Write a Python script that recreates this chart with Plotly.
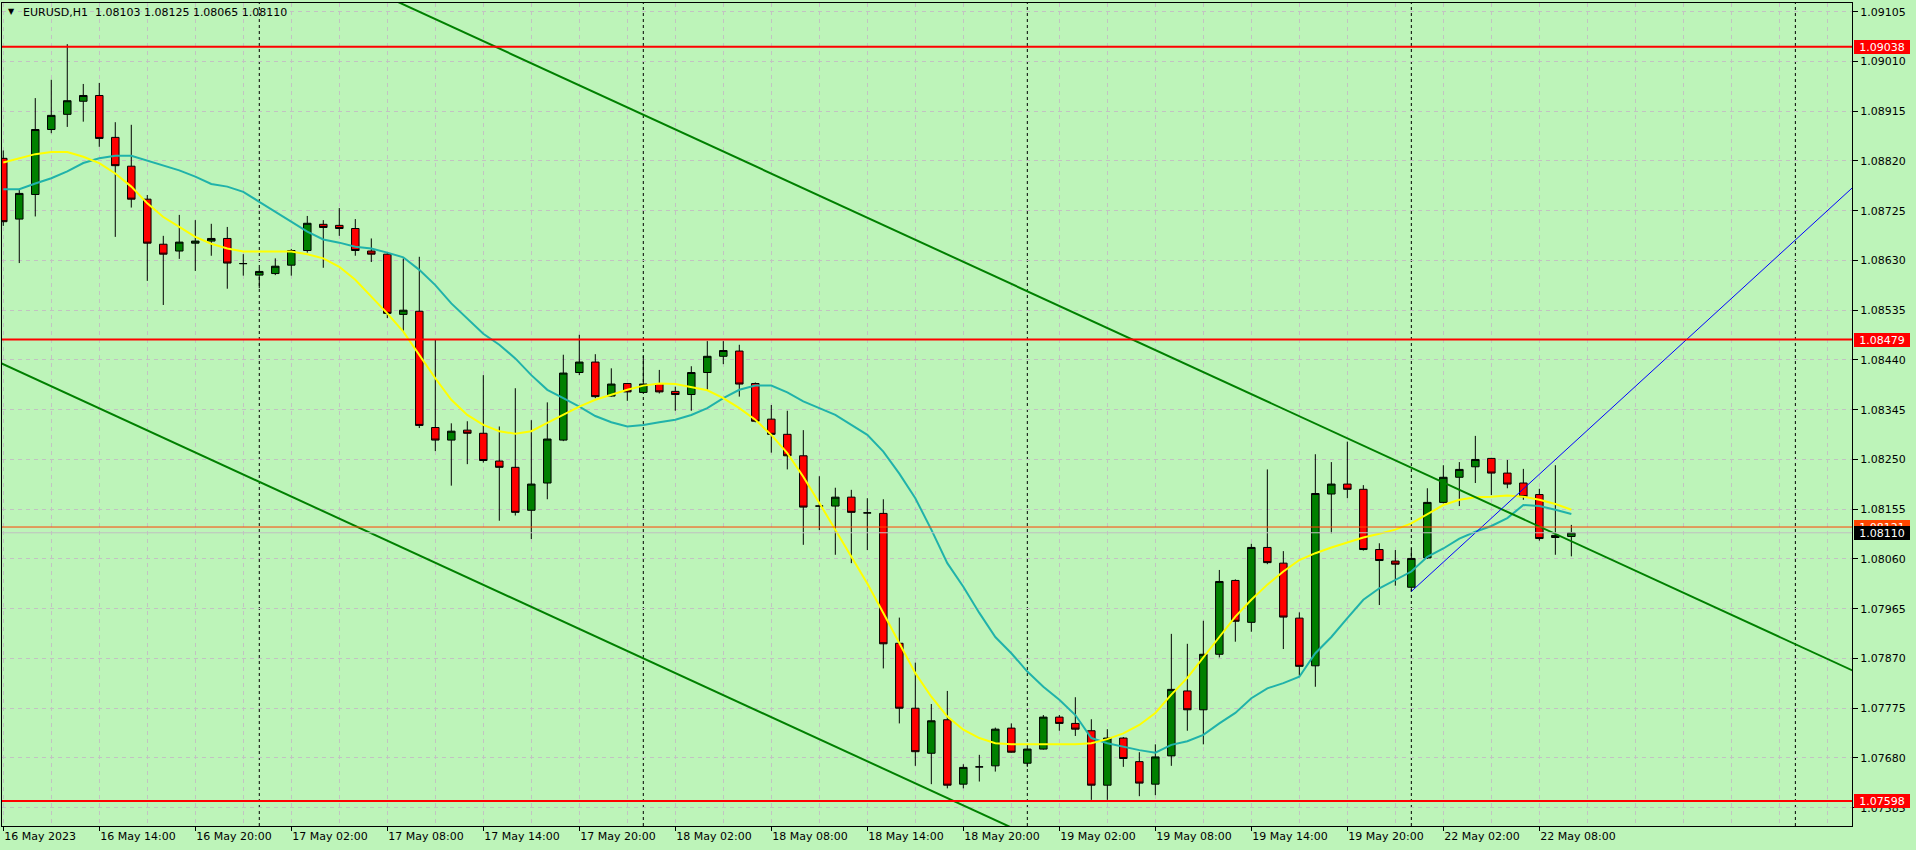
import plotly.graph_objects as go
from datetime import datetime, timedelta

FONT = "DejaVu Sans"
symbol = "EURUSD,H1"

# ---------------- data ----------------
bar_times = ([datetime(2023, 5, 16, 8) + timedelta(hours=h) for h in range(88)] +
             [datetime(2023, 5, 22, 0) + timedelta(hours=h) for h in range(11)])

opens = [1.08825, 1.08709, 1.08756, 1.08880, 1.08909, 1.08934, 1.08945, 1.08865, 1.08810, 1.08747,
         1.08661, 1.08648, 1.08663, 1.08667, 1.08672, 1.08624, 1.08602, 1.08605, 1.08621, 1.08649,
         1.08699, 1.08697, 1.08691, 1.08648, 1.08642, 1.08527, 1.08533, 1.08311, 1.08287, 1.08306,
         1.08300, 1.08247, 1.08235, 1.08153, 1.08205, 1.08287, 1.08416, 1.08436, 1.08371, 1.08395,
         1.08378, 1.08395, 1.08380, 1.08374, 1.08416, 1.08447, 1.08457, 1.08395, 1.08327, 1.08298,
         1.08257, 1.08161, 1.08161, 1.08178, 1.08148, 1.08147, 1.07899, 1.07775, 1.07689, 1.07753,
         1.07630, 1.07663, 1.07665, 1.07737, 1.07670, 1.07697, 1.07758, 1.07746, 1.07732, 1.07628,
         1.07718, 1.07673, 1.07630, 1.07684, 1.07808, 1.07772, 1.07878, 1.08019, 1.07939, 1.08082,
         1.08052, 1.07947, 1.07856, 1.08184, 1.08203, 1.08193, 1.08078, 1.08056, 1.08006, 1.08062,
         1.08168, 1.08216, 1.08236, 1.08252, 1.08224, 1.08205, 1.08183, 1.08101, 1.08103]
highs = [1.08840, 1.08765, 1.08940, 1.08975, 1.09043, 1.08967, 1.08969, 1.08894, 1.08889, 1.08755,
         1.08677, 1.08717, 1.08707, 1.08700, 1.08694, 1.08642, 1.08616, 1.08634, 1.08652, 1.08715,
         1.08707, 1.08730, 1.08709, 1.08672, 1.08646, 1.08634, 1.08637, 1.08479, 1.08319, 1.08323,
         1.08411, 1.08313, 1.08386, 1.08325, 1.08359, 1.08450, 1.08488, 1.08451, 1.08424, 1.08396,
         1.08448, 1.08421, 1.08389, 1.08428, 1.08476, 1.08476, 1.08469, 1.08397, 1.08354, 1.08343,
         1.08306, 1.08218, 1.08196, 1.08192, 1.08176, 1.08174, 1.07948, 1.07862, 1.07783, 1.07808,
         1.07668, 1.07686, 1.07738, 1.07746, 1.07699, 1.07762, 1.07762, 1.07796, 1.07754, 1.07735,
         1.07720, 1.07691, 1.07706, 1.07917, 1.07898, 1.07942, 1.08039, 1.08021, 1.08089, 1.08231,
         1.08075, 1.07958, 1.08260, 1.08245, 1.08284, 1.08201, 1.08090, 1.08077, 1.08080, 1.08195,
         1.08239, 1.08245, 1.08295, 1.08253, 1.08249, 1.08232, 1.08194, 1.08239, 1.08125]
lows = [1.08696, 1.08625, 1.08714, 1.08873, 1.08885, 1.08895, 1.08847, 1.08675, 1.08731, 1.08591,
        1.08545, 1.08633, 1.08610, 1.08639, 1.08576, 1.08601, 1.08577, 1.08602, 1.08601, 1.08645,
        1.08616, 1.08677, 1.08639, 1.08627, 1.08520, 1.08494, 1.08310, 1.08266, 1.08200, 1.08241,
        1.08244, 1.08133, 1.08143, 1.08098, 1.08174, 1.08285, 1.08411, 1.08367, 1.08370, 1.08362,
        1.08377, 1.08376, 1.08343, 1.08343, 1.08383, 1.08432, 1.08370, 1.08321, 1.08263, 1.08231,
        1.08087, 1.08115, 1.08068, 1.08052, 1.08077, 1.07851, 1.07746, 1.07665, 1.07630, 1.07622,
        1.07622, 1.07635, 1.07654, 1.07690, 1.07663, 1.07696, 1.07732, 1.07722, 1.07600, 1.07600,
        1.07663, 1.07607, 1.07609, 1.07665, 1.07732, 1.07706, 1.07872, 1.07902, 1.07921, 1.08050,
        1.07888, 1.07837, 1.07816, 1.08109, 1.08176, 1.08076, 1.07972, 1.08009, 1.07998, 1.08060,
        1.08166, 1.08161, 1.08205, 1.08182, 1.08195, 1.08173, 1.08095, 1.08068, 1.08065]
closes = [1.08704, 1.08758, 1.08880, 1.08907, 1.08935, 1.08945, 1.08863, 1.08811, 1.08747, 1.08663,
          1.08642, 1.08665, 1.08667, 1.08672, 1.08625, 1.08624, 1.08609, 1.08619, 1.08649, 1.08701,
          1.08693, 1.08691, 1.08649, 1.08642, 1.08529, 1.08535, 1.08315, 1.08287, 1.08304, 1.08300,
          1.08248, 1.08235, 1.08149, 1.08203, 1.08289, 1.08415, 1.08436, 1.08370, 1.08394, 1.08379,
          1.08394, 1.08379, 1.08374, 1.08416, 1.08447, 1.08458, 1.08394, 1.08323, 1.08298, 1.08257,
          1.08159, 1.08161, 1.08178, 1.08149, 1.08148, 1.07898, 1.07775, 1.07692, 1.07751, 1.07628,
          1.07662, 1.07663, 1.07735, 1.07691, 1.07697, 1.07758, 1.07746, 1.07735, 1.07628, 1.07718,
          1.07679, 1.07632, 1.07682, 1.07811, 1.07772, 1.07878, 1.08017, 1.07941, 1.08082, 1.08053,
          1.07949, 1.07855, 1.08185, 1.08203, 1.08193, 1.08078, 1.08057, 1.08050, 1.08061, 1.08168,
          1.08216, 1.08231, 1.08250, 1.08224, 1.08203, 1.08179, 1.08099, 1.08105, 1.08110]

# fast moving average (yellow)
ma_fast = [1.08817, 1.08825, 1.08833, 1.08837, 1.08837, 1.08828, 1.08816, 1.08796, 1.08771, 1.08739,
           1.08713, 1.08694, 1.08675, 1.08662, 1.08653, 1.08647, 1.08647, 1.08647, 1.08647, 1.08642,
           1.08634, 1.08618, 1.08593, 1.08561, 1.08529, 1.08494, 1.08449, 1.08405, 1.08364, 1.08335,
           1.08316, 1.08304, 1.08299, 1.08304, 1.08320, 1.08335, 1.08351, 1.08364, 1.08374, 1.08383,
           1.08391, 1.08395, 1.08394, 1.08388, 1.08382, 1.08367, 1.08348, 1.08326, 1.08297, 1.08262,
           1.08217, 1.08167, 1.08116, 1.08064, 1.08013, 1.07957, 1.07899, 1.07842, 1.07797, 1.07759,
           1.07734, 1.07718, 1.07708, 1.07706, 1.07706, 1.07706, 1.07706, 1.07706, 1.07708, 1.07716,
           1.07727, 1.07743, 1.07766, 1.07801, 1.07833, 1.07873, 1.07911, 1.07950, 1.07982, 1.08011,
           1.08036, 1.08058, 1.08071, 1.08082, 1.08091, 1.08101, 1.08108, 1.08116, 1.08128, 1.08146,
           1.08163, 1.08173, 1.08178, 1.08179, 1.08181, 1.08179, 1.08173, 1.08165, 1.08154]
# slow moving average (light sea green)
ma_slow = [1.08766, 1.08766, 1.08777, 1.08787, 1.08800, 1.08816, 1.08825, 1.08830, 1.08830, 1.08821,
           1.08811, 1.08802, 1.08790, 1.08776, 1.08771, 1.08761, 1.08742, 1.08723, 1.08704, 1.08685,
           1.08670, 1.08664, 1.08656, 1.08653, 1.08645, 1.08636, 1.08612, 1.08583, 1.08548, 1.08519,
           1.08490, 1.08469, 1.08443, 1.08411, 1.08383, 1.08367, 1.08351, 1.08333, 1.08321, 1.08313,
           1.08316, 1.08321, 1.08326, 1.08335, 1.08348, 1.08367, 1.08383, 1.08391, 1.08391, 1.08378,
           1.08361, 1.08348, 1.08335, 1.08316, 1.08297, 1.08265, 1.08223, 1.08176, 1.08116, 1.08052,
           1.08007, 1.07957, 1.07911, 1.07880, 1.07845, 1.07816, 1.07791, 1.07762, 1.07718, 1.07708,
           1.07701, 1.07695, 1.07690, 1.07705, 1.07712, 1.07724, 1.07746, 1.07766, 1.07794, 1.07813,
           1.07823, 1.07835, 1.07880, 1.07911, 1.07947, 1.07982, 1.08004, 1.08020, 1.08036, 1.08064,
           1.08080, 1.08099, 1.08112, 1.08123, 1.08138, 1.08163, 1.08161, 1.08154, 1.08146]

# horizontal levels, price lines
levels = [1.09038, 1.08479, 1.07598]
ask_price = 1.08121
bid_price = closes[-1]

# trend lines: (bar index, price) anchors
channel_upper = ([-1, 116], [1.09484, 1.07841])
channel_lower = ([-1, 70], [1.08446, 1.07449])
blue_ray = ([88, 116], [1.07998, 1.08781])

# y-axis tick values
y_ticks = [1.09105, 1.09010, 1.08915, 1.08820, 1.08725, 1.08630, 1.08535, 1.08440, 1.08345,
           1.08250, 1.08155, 1.08060, 1.07965, 1.07870, 1.07775, 1.07680, 1.07585]

# ---------------- derived ----------------
idx = list(range(len(bar_times)))
future = [bar_times[-1] + timedelta(hours=h) for h in range(1, 20)]
all_times = bar_times + future
day_starts = [i for i, t in enumerate(all_times) if t.hour == 0]
tick_idx = [i for i, t in enumerate(bar_times) if t.hour % 6 == 2]
tick_text = [bar_times[i].strftime("%d %b %Y") if n == 0 else bar_times[i].strftime("%d %b %H:%M")
             for n, i in enumerate(tick_idx)]

# ---------------- layout constants ----------------
W, H = 1916, 850
ML, MR, MT, MB = 2, 64, 3, 24
BG = "#BDF4B9"
GRID = "#C2C2C2"
x_range = [-0.08, 115.54]
y_range = [1.075501, 1.091216]

fig = go.Figure()
fig.add_trace(go.Candlestick(
    x=idx, open=opens, high=highs, low=lows, close=closes,
    increasing=dict(line=dict(color="black", width=1), fillcolor="#008000"),
    decreasing=dict(line=dict(color="black", width=1), fillcolor="#FF0000"),
    whiskerwidth=0, showlegend=False, hoverinfo="skip"))
fig.add_trace(go.Scatter(x=idx, y=ma_slow, mode="lines", line=dict(color="#20B2AA", width=2),
                         showlegend=False, hoverinfo="skip"))
fig.add_trace(go.Scatter(x=idx, y=ma_fast, mode="lines", line=dict(color="#FFFF00", width=2),
                         showlegend=False, hoverinfo="skip"))
for xs, ys in (channel_upper, channel_lower):
    fig.add_trace(go.Scatter(x=xs, y=ys, mode="lines", line=dict(color="#008000", width=2),
                             showlegend=False, hoverinfo="skip"))
fig.add_trace(go.Scatter(x=blue_ray[0], y=blue_ray[1], mode="lines", line=dict(color="#0000FF", width=1),
                         showlegend=False, hoverinfo="skip"))

shapes = []
for d in day_starts:
    shapes.append(dict(type="line", xref="x", yref="paper", x0=d, x1=d, y0=0, y1=1,
                       line=dict(color="black", width=1, dash="3px,3px"), layer="below"))
shapes.append(dict(type="line", xref="paper", yref="y", x0=0, x1=1, y0=bid_price, y1=bid_price,
                   line=dict(color="#C0C0C0", width=1), layer="above"))
shapes.append(dict(type="line", xref="paper", yref="y", x0=0, x1=1, y0=ask_price, y1=ask_price,
                   line=dict(color="#FF4500", width=1), layer="above"))
for lv in levels:
    shapes.append(dict(type="line", xref="paper", yref="y", x0=0, x1=1, y0=lv, y1=lv,
                       line=dict(color="#FF0000", width=2), layer="above"))


def tag(p, bg, fg="white"):
    return dict(xref="paper", x=1, xanchor="left", xshift=2, yref="y", y=p, yanchor="middle",
                text=f"{p:.5f}", showarrow=False, bgcolor=bg, borderwidth=0, borderpad=2,
                width=52, height=10, font=dict(family=FONT, size=11, color=fg))


plot_w = W - ML - MR
plot_h = H - MT - MB
annotations = [tag(ask_price, "#FF4500"), tag(bid_price, "black")] + [tag(lv, "#FF0000") for lv in levels]
annotations.append(dict(xref="paper", yref="paper", x=(11 - ML) / plot_w, y=(H - MB - 12) / plot_h,
                        xanchor="center", yanchor="middle", text="\u25BC", showarrow=False,
                        font=dict(family=FONT, size=8, color="black")))
title = f"{symbol}\u00a0\u00a0{opens[-1]:.5f} {highs[-1]:.5f} {lows[-1]:.5f} {closes[-1]:.5f}"
annotations.append(dict(xref="paper", yref="paper", x=(21 - ML) / plot_w, y=(H - MB - 12.7) / plot_h,
                        xanchor="left", yanchor="middle", text=title, showarrow=False,
                        font=dict(family=FONT, size=11, color="black")))

fig.update_layout(
    width=W, height=H, autosize=False,
    margin=dict(l=ML, r=MR, t=MT, b=MB, pad=0),
    paper_bgcolor=BG, plot_bgcolor=BG,
    boxgap=0.33,
    showlegend=False,
    font=dict(family=FONT, size=11, color="black"),
    shapes=shapes, annotations=annotations,
    xaxis=dict(type="linear", range=x_range, rangeslider=dict(visible=False),
               tickmode="array", tickvals=tick_idx, ticktext=tick_text,
               ticks="outside", ticklen=4, tickwidth=1, tickcolor="black",
               ticklabelposition="outside right",
               showgrid=False, zeroline=False,
               showline=True, linecolor="black", linewidth=1, mirror=True,
               minor=dict(tickmode="linear", tick0=0, dtick=3, showgrid=True,
                          gridcolor=GRID, gridwidth=1, griddash="4px,4px", ticks=""),
               tickfont=dict(family=FONT, size=11, color="black"), fixedrange=True),
    yaxis=dict(side="right", range=y_range, tickmode="array", tickvals=y_ticks,
               ticktext=[f"{v:.5f}" for v in y_ticks],
               ticks="outside", ticklen=5, tickwidth=1, tickcolor="black",
               showgrid=True, gridcolor=GRID, gridwidth=1, griddash="4px,4px",
               zeroline=False, showline=True, linecolor="black", linewidth=1, mirror=True,
               tickfont=dict(family=FONT, size=11, color="black"), fixedrange=True),
)

fig.write_html("out.html", config={"displayModeBar": False},
               post_script="document.body.style.margin='0';document.body.style.overflow='hidden';")
